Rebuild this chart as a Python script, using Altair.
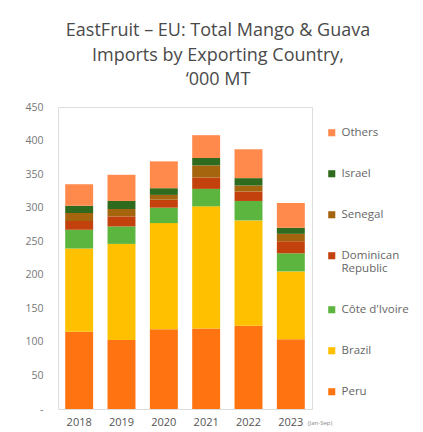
import altair as alt
import pandas as pd

years = ["2018", "2019", "2020", "2021", "2022", "2023"]
series = ["Others", "Israel", "Senegal", "Dominican Republic", "Côte d'Ivoire", "Brazil", "Peru"]
colors = ["#FF8A4C", "#2F6B1E", "#A5650F", "#C2410C", "#5CB53F", "#FFC000", "#FF7410"]
y_ticks = [0, 50, 100, 150, 200, 250, 300, 350, 400, 450]

peru = [115, 103, 119, 120, 124, 104]
brazil = [124, 143, 158, 182, 157, 101]
cote = [28, 26, 23, 26, 29, 27]
dominican = [13, 15, 12, 17, 14, 18]
senegal = [12, 11, 7, 18, 9, 11]
israel = [11, 12, 10, 11, 11, 9]
others = [32, 39, 40, 34, 43, 37]

values = {
    "Peru": peru, "Brazil": brazil, "Côte d'Ivoire": cote,
    "Dominican Republic": dominican, "Senegal": senegal,
    "Israel": israel, "Others": others,
}
stack_order = ["Peru", "Brazil", "Côte d'Ivoire", "Dominican Republic", "Senegal", "Israel", "Others"]

rows = []
for s in stack_order:
    for i, y in enumerate(years):
        rows.append({"year": y, "country": s, "value": values[s][i], "rank": stack_order.index(s)})
df = pd.DataFrame(rows)

note = pd.DataFrame({"year": ["2023"], "value": [0], "t": ["(Jan-Sep)"]})

FONT = "Open Sans"

x_axis = alt.Axis(labelAngle=0, ticks=False, domain=False, labelFontSize=11,
                  labelColor="#555", labelPadding=7, labelFont=FONT)
y_axis = alt.Axis(values=y_ticks, grid=False, ticks=False, domain=False,
                  labelFontSize=10.5, labelColor="#777", labelPadding=15, labelFont=FONT,
                  labelOverlap=False, labelExpr="datum.value == 0 ? '-' : datum.label")
x_enc = alt.X("year:N", sort=years, title=None,
              scale=alt.Scale(paddingInner=0.34, paddingOuter=0.17), axis=x_axis)
y_scale = alt.Scale(domain=[0, 450], nice=False)

bars = alt.Chart(df).mark_bar().encode(
    x=x_enc,
    y=alt.Y("value:Q", stack="zero", title=None, scale=y_scale, axis=y_axis),
    color=alt.Color("country:N", scale=alt.Scale(domain=series, range=colors), title=None,
                    legend=alt.Legend(orient="none", legendX=268, legendY=20, direction="vertical",
                                      symbolType="square", symbolSize=50, symbolStrokeWidth=0,
                                      labelFontSize=11.5, labelColor="#666", labelFont=FONT,
                                      rowPadding=28, padding=0, labelOffset=4, labelLimit=200,
                                      labelExpr="datum.label == 'Dominican Republic' ? ['Dominican', 'Republic'] : datum.label")),
    order=alt.Order("rank:Q", sort="ascending"),
)

txt = alt.Chart(note).mark_text(fontSize=6, color="#888", align="left", baseline="top", dx=17, dy=11,
                                font=FONT).encode(
    x=x_enc,
    y=alt.Y("value:Q", title=None, scale=y_scale, axis=y_axis),
    text="t:N",
)

chart = alt.layer(bars, txt).properties(
    width=254,
    height=302,
    autosize=alt.AutoSizeParams(type="none"),
    padding={"left": 50, "top": 99, "right": 103, "bottom": 23},
    title=alt.TitleParams(
        text=["EastFruit – EU: Total Mango & Guava", "Imports by Exporting Country,", "\u2018000 MT"],
        fontSize=18, font=FONT, fontWeight="normal", color="#4a4a4a",
        anchor="middle", frame="group", dx=33, offset=13, lineHeight=24.5,
    ),
).configure_view(stroke=None).configure(background="white")

chart.save("out.html", embed_options={"renderer": "svg", "actions": False})
